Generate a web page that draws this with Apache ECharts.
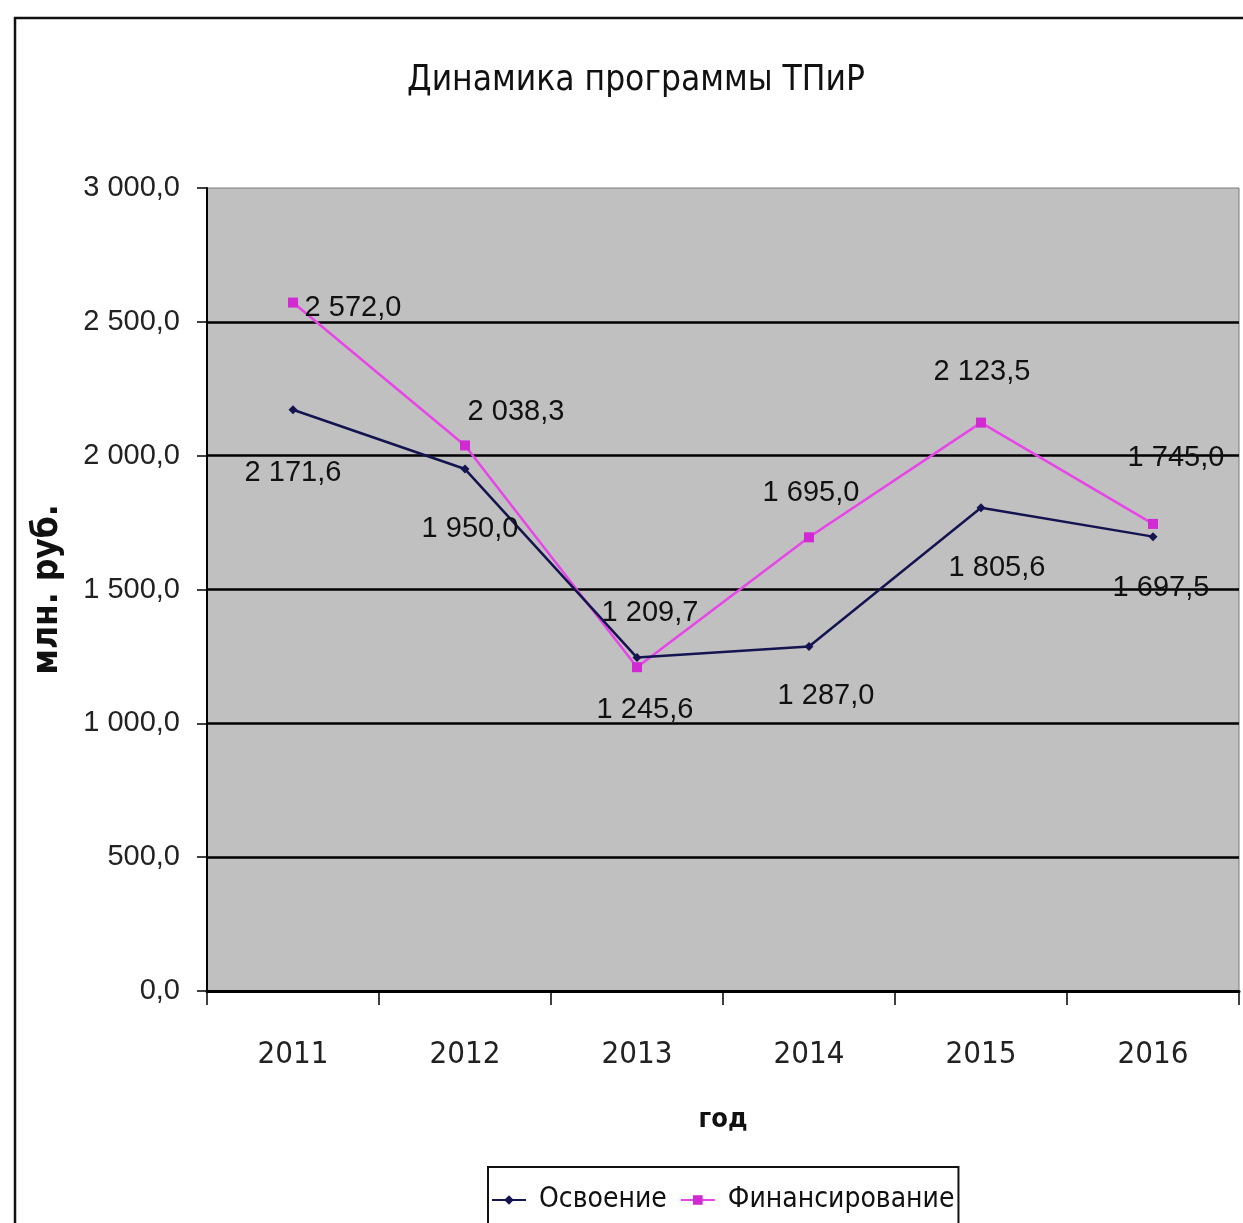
<!DOCTYPE html>
<html>
<head>
<meta charset="utf-8">
<script src="https://cdn.jsdelivr.net/npm/echarts@6/dist/echarts.min.js"></script>
<style>
html,body{margin:0;padding:0;background:#fff;}
#chart{width:1243px;height:1223px;}
</style>
</head>
<body>
<div id="chart"></div>
<script>
const categories = ['2011', '2012', '2013', '2014', '2015', '2016'];
const osvoenie = [2171.6, 1950.0, 1245.6, 1287.0, 1805.6, 1697.5];
const finansirovanie = [2572.0, 2038.3, 1209.7, 1695.0, 2123.5, 1745.0];
const seriesNames = ['Освоение', 'Финансирование'];
const titleText = 'Динамика программы ТПиР';
const yAxisName = 'млн. руб.';
const xAxisName = 'год';

// label placement (layout only)
const osvLabelShift = [[0, 63], [5, 60], [8, 52], [17, 49], [16, 60], [8, 51]];
const finLabelShift = [[60, 5], [51, -33], [13, -54], [2, -44], [1, -51], [23, -66]];

function fmt(v) {
  const s = Number(v).toFixed(1);
  const parts = s.split('.');
  return parts[0].replace(/\B(?=(\d{3})+(?!\d))/g, ' ') + ',' + parts[1];
}

const chart = echarts.init(document.getElementById('chart'));
const labelFont = {fontFamily: '"Liberation Sans", Arial, sans-serif', fontSize: 29, color: '#111'};
const narrow = '"DejaVu Sans Condensed", "Liberation Sans", Arial, sans-serif';

function mkData(vals, shifts) {
  return vals.map((v, i) => ({
    value: v,
    label: {offset: shifts[i]}
  }));
}

chart.setOption({
  backgroundColor: '#ffffff',
  animation: false,
  title: {
    text: titleText,
    left: 631,
    textAlign: 'center',
    top: 58,
    textStyle: {fontFamily: narrow, fontSize: 35, fontWeight: 'normal', color: '#111'}
  },
  graphic: [{
    type: 'rect',
    shape: {x: 15, y: 18, width: 1300, height: 1300},
    style: {fill: 'none', stroke: '#111', lineWidth: 2.5},
    z: -1
  }],
  legend: {
    data: seriesNames,
    left: 488,
    top: 1167,
    padding: [13, 4, 40, 3],
    itemGap: 13,
    itemWidth: 34,
    itemHeight: 12,
    borderColor: '#111',
    borderWidth: 2,
    textStyle: {fontFamily: narrow, fontSize: 28, color: '#111', lineHeight: 40, padding: [0, 0, 0, 8]}
  },
  grid: {
    left: 207,
    right: 4,
    top: 188,
    bottom: 232,
    show: true,
    backgroundColor: '#C0C0C0',
    borderColor: '#7a7a7a',
    borderWidth: 1
  },
  xAxis: {
    type: 'category',
    data: categories,
    boundaryGap: true,
    name: xAxisName,
    nameLocation: 'middle',
    nameGap: 115,
    nameTextStyle: {fontFamily: narrow, fontSize: 27, fontWeight: 'bold', color: '#111'},
    axisLine: {lineStyle: {color: '#000', width: 3}},
    axisTick: {show: true, interval: 0, length: 14, lineStyle: {color: '#000', width: 1.5}},
    axisLabel: {fontFamily: narrow, fontSize: 31, color: '#222', margin: 48, interval: 0},
    splitLine: {show: false}
  },
  yAxis: {
    type: 'value',
    min: 0,
    max: 3000,
    interval: 500,
    name: yAxisName,
    nameLocation: 'middle',
    nameGap: 142,
    nameRotate: 90,
    nameTextStyle: {fontFamily: narrow, fontSize: 35, fontWeight: 'bold', color: '#111'},
    axisLine: {show: true, lineStyle: {color: '#000', width: 2}},
    axisTick: {show: true, length: 10, lineStyle: {color: '#000', width: 1.5}},
    axisLabel: {fontFamily: '"Liberation Sans", Arial, sans-serif', fontSize: 29, color: '#222', margin: 27, formatter: fmt},
    splitLine: {show: true, lineStyle: {color: ['#000', '#000', '#000', '#000', '#000', '#000', 'rgba(0,0,0,0)'], width: 2.5}}
  },
  series: [
    {
      name: seriesNames[0],
      type: 'line',
      data: mkData(osvoenie, osvLabelShift),
      symbol: 'diamond',
      symbolSize: 9,
      itemStyle: {color: '#141450'},
      lineStyle: {color: '#141450', width: 2.5},
      label: Object.assign({show: true, position: 'inside', formatter: p => fmt(p.value)}, labelFont),
      z: 3
    },
    {
      name: seriesNames[1],
      type: 'line',
      data: mkData(finansirovanie, finLabelShift),
      symbol: 'rect',
      symbolSize: 10,
      itemStyle: {color: '#D22AD2'},
      lineStyle: {color: '#E845E8', width: 2.5},
      label: Object.assign({show: true, position: 'inside', formatter: p => fmt(p.value)}, labelFont),
      z: 2
    }
  ]
});
</script>
</body>
</html>
